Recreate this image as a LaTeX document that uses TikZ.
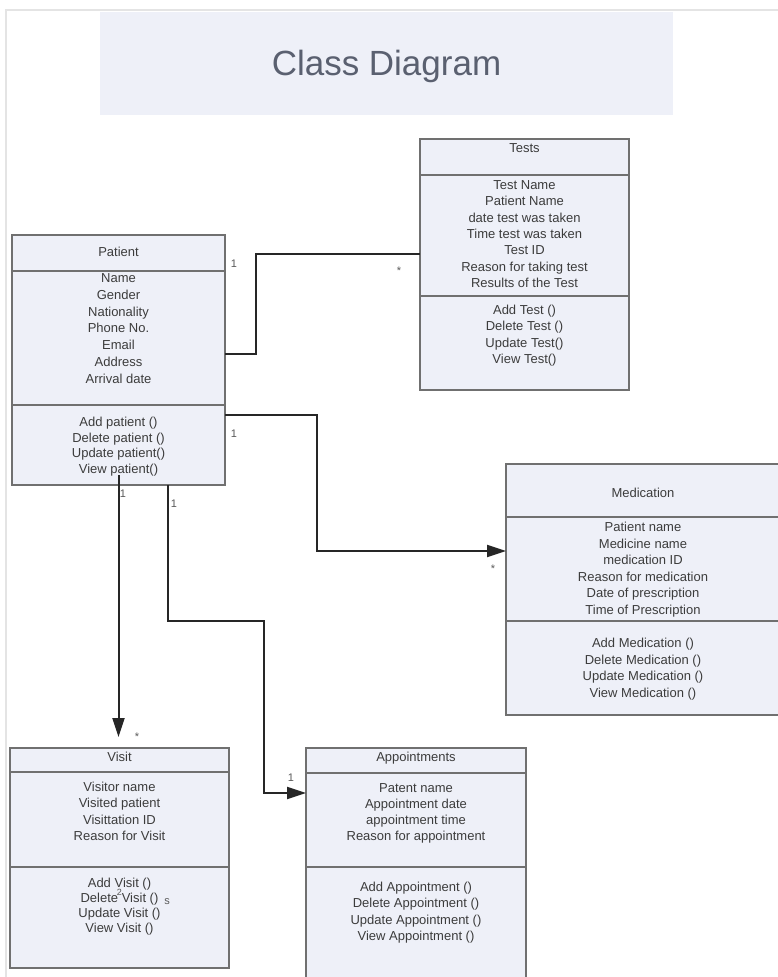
\documentclass[tikz,border=0pt]{standalone}
\usepackage{fontspec}
\setmainfont{Liberation Sans}
\usetikzlibrary{arrows.meta}
\definecolor{boxfill}{HTML}{EEF0F8}
\definecolor{boxline}{HTML}{707070}
\definecolor{inktext}{HTML}{3C3C3C}
\definecolor{conncol}{HTML}{262626}
\definecolor{titleink}{HTML}{5A6070}
\definecolor{framecol}{HTML}{E4E4E4}
\begin{document}
\begin{tikzpicture}[x=1pt,y=-1pt,
  classbox/.style={draw=boxline, fill=boxfill, line width=1.4pt, rectangle,
    inner sep=0pt, outer sep=0pt, anchor=north west},
  divider/.style={draw=boxline, line width=1.4pt},
  txt/.style={font=\fontsize{13}{15}\selectfont, text=inktext, anchor=base, inner sep=0pt},
  mult/.style={font=\fontsize{11}{13}\selectfont, text=inktext!85, anchor=base, inner sep=0pt},
  conn/.style={draw=conncol, line width=2pt},
  arr/.style={-{Triangle[length=19pt,width=12pt]}}
]
\clip (0,0) rectangle (778,977);
\fill[white] (0,0) rectangle (778,977);
% page frame
\draw[framecol, line width=1.2pt] (6,977) -- (6,10) -- (778,10);

% title banner
\node[fill=boxfill, rectangle, inner sep=0pt, anchor=north west,
  minimum width=573, minimum height=103] (titlebox) at (100,12) {};
\node[font=\fontsize{35}{40}\selectfont, text=titleink, anchor=base, inner sep=0pt]
  (title) at (386.5,75) {Class Diagram};

% ---------- Patient ----------
\node[classbox, minimum width=213, minimum height=250] (patient) at (12,235) {};
\draw[divider] (patient.west |- 0,271) -- (patient.east |- 0,271);
\draw[divider] (patient.west |- 0,405) -- (patient.east |- 0,405);
\node[txt] (patient-name) at (118.5,256.5) {Patient};
\foreach \t [count=\i] in {Name,Gender,Nationality,Phone No.,Email,Address,Arrival date}
  \node[txt] (patient-a\i) at (118.5,{282.5+16.8*(\i-1)}) {\t};
\foreach \t [count=\i] in {Add patient (),Delete patient (),Update patient(),View patient()}
  \node[txt] (patient-o\i) at (118.5,{426.5+15.7*(\i-1)}) {\t};

% ---------- Tests ----------
\node[classbox, minimum width=209, minimum height=251] (tests) at (420,139) {};
\draw[divider] (tests.west |- 0,175) -- (tests.east |- 0,175);
\draw[divider] (tests.west |- 0,296) -- (tests.east |- 0,296);
\node[txt] (tests-name) at (524.5,152.5) {Tests};
\foreach \t [count=\i] in {Test Name,Patient Name,date test was taken,Time test was taken,Test ID,Reason for taking test,Results of the Test}
  \node[txt] (tests-a\i) at (524.5,{189.5+16.3*(\i-1)}) {\t};
\foreach \t [count=\i] in {Add Test (),Delete Test (),Update Test(),View Test()}
  \node[txt] (tests-o\i) at (524.5,{314.5+16.3*(\i-1)}) {\t};

% ---------- Medication ----------
\node[classbox, minimum width=274, minimum height=251] (med) at (506,464) {};
\draw[divider] (med.west |- 0,517) -- (med.east |- 0,517);
\draw[divider] (med.west |- 0,621) -- (med.east |- 0,621);
\node[txt] (med-name) at (643,497.5) {Medication};
\foreach \t [count=\i] in {Patient name,Medicine name,medication ID,Reason for medication,Date of prescription,Time of Prescription}
  \node[txt] (med-a\i) at (643,{531.5+16.6*(\i-1)}) {\t};
\foreach \t [count=\i] in {Add Medication (),Delete Medication (),Update Medication (),View Medication ()}
  \node[txt] (med-o\i) at (643,{647.5+16.7*(\i-1)}) {\t};

% ---------- Visit ----------
\node[classbox, minimum width=219, minimum height=220] (visit) at (10,748) {};
\draw[divider] (visit.west |- 0,772) -- (visit.east |- 0,772);
\draw[divider] (visit.west |- 0,867) -- (visit.east |- 0,867);
\node[txt] (visit-name) at (119.5,761.5) {Visit};
\foreach \t [count=\i] in {Visitor name,Visited patient,Visittation ID,Reason for Visit}
  \node[txt] (visit-a\i) at (119.5,{791.5+16.3*(\i-1)}) {\t};
\foreach \t [count=\i] in {Add Visit (),Delete Visit (),Update Visit (),View Visit ()}
  \node[txt] (visit-o\i) at (119.5,{887+15*(\i-1)}) {\t};

% ---------- Appointments ----------
\node[classbox, minimum width=220, minimum height=250] (appt) at (306,748) {};
\draw[divider] (appt.west |- 0,773) -- (appt.east |- 0,773);
\draw[divider] (appt.west |- 0,867) -- (appt.east |- 0,867);
\node[txt] (appt-name) at (416,761.5) {Appointments};
\foreach \t [count=\i] in {Patent name,Appointment date,appointment time,Reason for appointment}
  \node[txt] (appt-a\i) at (416,{792.5+16*(\i-1)}) {\t};
\foreach \t [count=\i] in {Add Appointment (),Delete Appointment (),Update Appointment (),View Appointment ()}
  \node[txt] (appt-o\i) at (416,{891.5+16.3*(\i-1)}) {\t};

% ---------- associations ----------
\draw[conn] (patient.east |- 0,354) -| (256,254) -- (tests.west |- 0,254);
\draw[conn, arr] (patient.east |- 0,415) -| (317,551) -- (med.west |- 0,551);
\draw[conn, arr, shorten >=11pt] ([yshift=10pt]patient.south) -- (patient.south |- visit.north);
\draw[conn, arr] (patient.south -| 168,0) |- (264,621) |- (appt.west |- 0,793);

% multiplicities
\node[mult] (m1) at (234,267) {1};
\node[mult] (m2) at (399,274) {*};
\node[mult] (m3) at (234,437) {1};
\node[mult] (m4) at (493,572) {*};
\node[mult] (m5) at (123,497) {1};
\node[mult] (m6) at (137,740) {*};
\node[mult] (m7) at (174,507) {1};
\node[mult] (m8) at (291,781) {1};
\node[mult, font=\fontsize{9}{11}\selectfont] (m9) at (119.5,895) {2};
\node[mult] (m10) at (167,904) {s};
\end{tikzpicture}
\end{document}
